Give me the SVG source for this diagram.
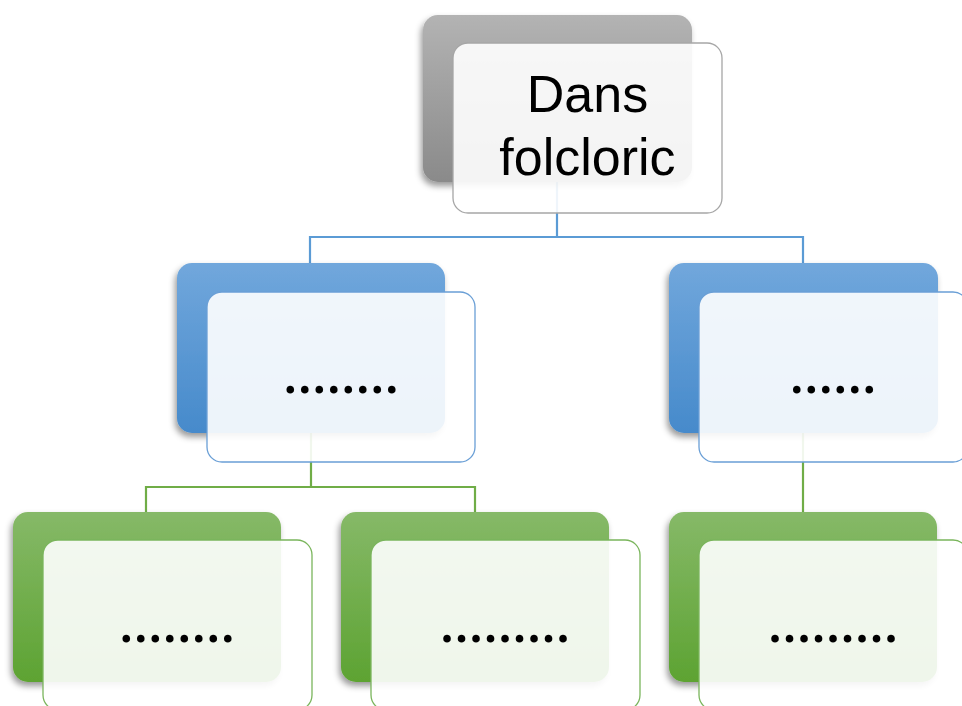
<svg xmlns="http://www.w3.org/2000/svg" width="962" height="706" viewBox="0 0 962 706">
<defs>
<linearGradient id="gGray" x1="0" y1="0" x2="0" y2="1"><stop offset="0" stop-color="#b3b3b3"/><stop offset="1" stop-color="#8a8a8a"/></linearGradient>
<linearGradient id="gBlue" x1="0" y1="0" x2="0" y2="1"><stop offset="0" stop-color="#71a7dc"/><stop offset="1" stop-color="#468acb"/></linearGradient>
<linearGradient id="gGreen" x1="0" y1="0" x2="0" y2="1"><stop offset="0" stop-color="#86b968"/><stop offset="1" stop-color="#5da332"/></linearGradient>
<filter id="sh" x="-20%" y="-20%" width="140%" height="140%"><feDropShadow dx="-2" dy="4" stdDeviation="3" flood-color="#000" flood-opacity="0.4"/></filter>
</defs>
<style>
.back{filter:url(#sh)}
.front{fill:#fff;fill-opacity:0.9;stroke-width:1.3}
.fg{stroke:#a6a6a6}
.fb{stroke:#6a9fd6}
.fgr{stroke:#7ab55c}
.lb{stroke:#5b9bd5;stroke-width:2.2;fill:none}
.lg{stroke:#70ad47;stroke-width:2.2;fill:none}
.t{font-family:"Liberation Sans",Arial,sans-serif;fill:#000;text-anchor:middle}
.dots{font-family:"Open Sans","Liberation Sans",sans-serif;font-size:53px;font-weight:600}
</style>
<rect width="962" height="706" fill="#fff"/>
<g id="connectors">
<path class="lb" d="M557 182 V237 M310 263 V237 H803 V263"/>
<path class="lg" d="M311 433 V487 M146 512 V487 H475 V512"/>
<path class="lg" d="M803 433 V512"/>
</g>
<g id="node-root">
<rect class="back" x="423" y="15" width="269" height="167" rx="15" fill="url(#gGray)"/>
<rect class="front fg" x="453" y="43" width="269" height="170" rx="15"/>
<text class="t" x="587.5" y="112" font-size="52">Dans</text>
<text class="t" x="587.5" y="175" font-size="52">folcloric</text>
</g>
<g id="node-mid-left">
<rect class="back" x="177" y="263" width="268" height="170" rx="15" fill="url(#gBlue)"/>
<rect class="front fb" x="207" y="292" width="268" height="170" rx="15"/>
<text class="t dots" x="341" y="393">........</text>
</g>
<g id="node-mid-right">
<rect class="back" x="669" y="263" width="269" height="170" rx="15" fill="url(#gBlue)"/>
<rect class="front fb" x="699" y="292" width="269" height="170" rx="15"/>
<text class="t dots" x="833" y="393">......</text>
</g>
<g id="node-bottom-left">
<rect class="back" x="13" y="512" width="268" height="170" rx="15" fill="url(#gGreen)"/>
<rect class="front fgr" x="43" y="540" width="269" height="170" rx="15"/>
<text class="t dots" x="177" y="642">........</text>
</g>
<g id="node-bottom-middle">
<rect class="back" x="341" y="512" width="268" height="170" rx="15" fill="url(#gGreen)"/>
<rect class="front fgr" x="371" y="540" width="269" height="170" rx="15"/>
<text class="t dots" x="505" y="642">.........</text>
</g>
<g id="node-bottom-right">
<rect class="back" x="669" y="512" width="268" height="170" rx="15" fill="url(#gGreen)"/>
<rect class="front fgr" x="699" y="540" width="269" height="170" rx="15"/>
<text class="t dots" x="833" y="642">.........</text>
</g>
</svg>
